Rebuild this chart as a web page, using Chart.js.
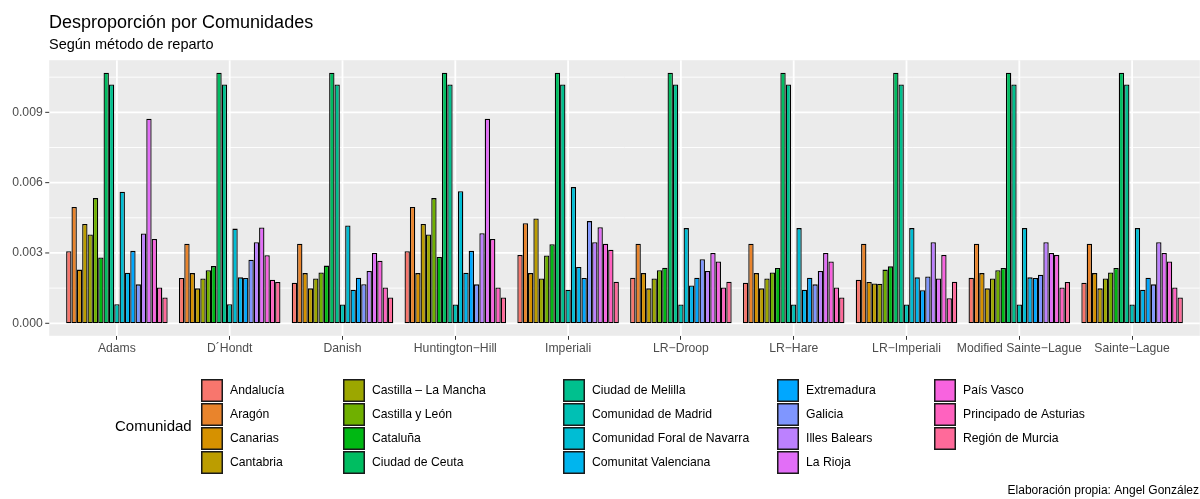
<!DOCTYPE html>
<html>
<head>
<meta charset="utf-8">
<script src="https://cdn.jsdelivr.net/npm/chart.js@4.4.1/dist/chart.umd.min.js"></script>
<style>
html, body { margin: 0; padding: 0; background: #fff; }
#wrap { width: 1200px; height: 499px; position: relative; }
</style>
</head>
<body>
<div id="wrap"><canvas id="chart"></canvas></div>
<script>
const metodos = ["Adams", "D\u00b4Hondt", "Danish", "Huntington\u2212Hill", "Imperiali", "LR\u2212Droop",
    "LR\u2212Hare", "LR\u2212Imperiali", "Modified Sainte\u2212Lague", "Sainte\u2212Lague"];

const comunidades = ["Andalucía", "Aragón", "Canarias", "Cantabria", "Castilla \u2013 La Mancha",
    "Castilla y León", "Cataluña", "Ciudad de Ceuta", "Ciudad de Melilla", "Comunidad de Madrid",
    "Comunidad Foral de Navarra", "Comunitat Valenciana", "Extremadura", "Galicia", "Illes Balears",
    "La Rioja", "País Vasco", "Principado de Asturias", "Región de Murcia"];

const colores = ["#F8766D", "#E9842C", "#D69100", "#BC9D00", "#9CA700", "#6FB000", "#00B813",
    "#00BD61", "#00C08E", "#00C0B4", "#00BDD4", "#00B5EE", "#00A7FF", "#7F96FF", "#BC81FF",
    "#E26EF7", "#F863DF", "#FF62BF", "#FF6A9A"];

// one value per comunidad, same order as above
const adams       = [0.00307, 0.00496, 0.00229, 0.00424, 0.00379, 0.00534, 0.00281, 0.01069, 0.01019, 0.00081, 0.00561, 0.00216, 0.00309, 0.00166, 0.00383, 0.00873, 0.00360, 0.00153, 0.00110];
const dhondt      = [0.00193, 0.00339, 0.00214, 0.00149, 0.00191, 0.00226, 0.00244, 0.01069, 0.01019, 0.00081, 0.00404, 0.00196, 0.00193, 0.00271, 0.00346, 0.00409, 0.00290, 0.00186, 0.00176];
const danish      = [0.00173, 0.00339, 0.00214, 0.00149, 0.00191, 0.00217, 0.00246, 0.01069, 0.01019, 0.00080, 0.00417, 0.00143, 0.00194, 0.00167, 0.00223, 0.00300, 0.00267, 0.00153, 0.00110];
const huntington  = [0.00307, 0.00496, 0.00214, 0.00424, 0.00379, 0.00534, 0.00283, 0.01069, 0.01019, 0.00080, 0.00563, 0.00216, 0.00309, 0.00166, 0.00384, 0.00873, 0.00360, 0.00153, 0.00110];
const imperiali   = [0.00291, 0.00427, 0.00214, 0.00447, 0.00191, 0.00289, 0.00337, 0.01069, 0.01019, 0.00143, 0.00581, 0.00240, 0.00193, 0.00436, 0.00346, 0.00410, 0.00339, 0.00314, 0.00177];
const lrDroop     = [0.00194, 0.00339, 0.00214, 0.00149, 0.00191, 0.00226, 0.00237, 0.01069, 0.01019, 0.00080, 0.00406, 0.00161, 0.00194, 0.00273, 0.00223, 0.00300, 0.00264, 0.00153, 0.00177];
const lrHare      = [0.00173, 0.00339, 0.00214, 0.00149, 0.00191, 0.00217, 0.00236, 0.01069, 0.01019, 0.00080, 0.00406, 0.00143, 0.00194, 0.00166, 0.00223, 0.00300, 0.00264, 0.00153, 0.00110];
const lrImperiali = [0.00186, 0.00339, 0.00176, 0.00170, 0.00169, 0.00229, 0.00243, 0.01069, 0.01019, 0.00080, 0.00406, 0.00196, 0.00141, 0.00200, 0.00346, 0.00191, 0.00291, 0.00107, 0.00177];
const modSainte   = [0.00194, 0.00339, 0.00214, 0.00149, 0.00191, 0.00226, 0.00236, 0.01069, 0.01019, 0.00080, 0.00406, 0.00196, 0.00193, 0.00207, 0.00346, 0.00300, 0.00291, 0.00153, 0.00176];
const sainte      = [0.00173, 0.00339, 0.00214, 0.00149, 0.00191, 0.00217, 0.00236, 0.01069, 0.01019, 0.00080, 0.00406, 0.00143, 0.00194, 0.00166, 0.00346, 0.00300, 0.00264, 0.00153, 0.00110];

const valores = [adams, dhondt, danish, huntington, imperiali, lrDroop, lrHare, lrImperiali, modSainte, sainte];

const yTicks = [0, 0.003, 0.006, 0.009];

const FONT = '"Liberation Sans", Arial, sans-serif';
Chart.defaults.font.family = FONT;

// ggplot-like panel: grey background a bit wider than the bands, white grid
const panel = {
    id: 'panel',
    beforeDraw(chart) {
        const { ctx, chartArea: a, scales: { x, y } } = chart;
        const band = (a.right - a.left) / metodos.length;
        const L = a.left - 0.1 * band, R = a.right + 0.1 * band;
        ctx.save();
        ctx.fillStyle = '#EBEBEB';
        ctx.fillRect(L, a.top, R - L, a.bottom - a.top);
        ctx.strokeStyle = '#FFFFFF';

        const step = yTicks[1] - yTicks[0];
        ctx.lineWidth = 0.9;
        yTicks.forEach(v => {
            const py = y.getPixelForValue(v + step / 2);
            if (py < a.top) return;
            ctx.beginPath(); ctx.moveTo(L, py); ctx.lineTo(R, py); ctx.stroke();
        });

        ctx.lineWidth = 1.8;
        yTicks.forEach(v => {
            const py = y.getPixelForValue(v);
            ctx.beginPath(); ctx.moveTo(L, py); ctx.lineTo(R, py); ctx.stroke();
        });
        metodos.forEach((m, i) => {
            const px = x.getPixelForValue(i);
            ctx.beginPath(); ctx.moveTo(px, a.top); ctx.lineTo(px, a.bottom); ctx.stroke();
        });

        // y axis tick marks
        ctx.strokeStyle = '#333333';
        ctx.lineWidth = 1;
        yTicks.forEach(v => {
            const py = y.getPixelForValue(v);
            ctx.beginPath(); ctx.moveTo(L - 4, py); ctx.lineTo(L, py); ctx.stroke();
        });
        ctx.restore();
    },
    afterDraw(chart) {
        const { ctx } = chart;
        ctx.save();
        ctx.fillStyle = '#000';
        ctx.textBaseline = 'alphabetic';
        ctx.textAlign = 'left';
        ctx.font = '18px ' + FONT;
        ctx.fillText('Desproporción por Comunidades', 49, 28);
        ctx.font = '14.5px ' + FONT;
        ctx.fillText('Según método de reparto', 49, 48.5);

        // legend
        ctx.textBaseline = 'middle';
        ctx.font = '15px ' + FONT;
        ctx.fillText('Comunidad', 115, 427);
        const colX = [201, 343, 563, 777, 934];
        ctx.font = '12.2px ' + FONT;
        comunidades.forEach((c, i) => {
            const col = Math.floor(i / 4), row = i % 4;
            const kx = colX[col], ky = 379 + row * 24;
            ctx.fillStyle = colores[i];
            ctx.fillRect(kx, ky, 22, 23);
            ctx.strokeStyle = '#1A1A1A';
            ctx.lineWidth = 1.5;
            ctx.strokeRect(kx + 0.75, ky + 0.75, 20.5, 21.5);
            ctx.fillStyle = '#000';
            ctx.fillText(c, kx + 29, ky + 11.5);
        });

        ctx.textAlign = 'right';
        ctx.font = '12px ' + FONT;
        ctx.fillText('Elaboración propia: Angel González', 1199, 491);
        ctx.restore();
    }
};

const datasets = comunidades.map((c, i) => ({
    label: c,
    data: valores.map(v => v[i]),
    backgroundColor: colores[i],
    borderColor: '#000000',
    borderWidth: 1.3,
    borderSkipped: false,
    categoryPercentage: 0.9,
    barPercentage: 1.0
}));

new Chart(document.getElementById('chart'), {
    type: 'bar',
    data: { labels: metodos, datasets: datasets },
    plugins: [panel],
    options: {
        responsive: true,
        maintainAspectRatio: false,
        animation: false,
        layout: { padding: { top: 60.2, right: 11.5, bottom: 0, left: 0 } },
        plugins: {
            legend: { display: false },
            tooltip: { enabled: false },
            title: { display: false }
        },
        scales: {
            x: {
                type: 'category',
                offset: true,
                grid: { display: true, drawOnChartArea: false, drawTicks: true, tickLength: 4, color: '#333333', lineWidth: 1, offset: false },
                border: { display: false },
                ticks: { color: '#4D4D4D', font: { size: 12.2 }, padding: 2, maxRotation: 0, autoSkip: false },
                afterFit(s) { s.height = 499 - 335.8; }
            },
            y: {
                min: -0.000534,
                max: 0.011224,
                afterBuildTicks(s) { s.ticks = yTicks.map(v => ({ value: v })); },
                grid: { display: false, drawTicks: false },
                border: { display: false },
                ticks: { color: '#4D4D4D', font: { size: 12.2 }, padding: 17.8, callback: v => v.toFixed(3) },
                afterFit(s) { s.width = 60.5; }
            }
        }
    }
});
</script>
</body>
</html>
